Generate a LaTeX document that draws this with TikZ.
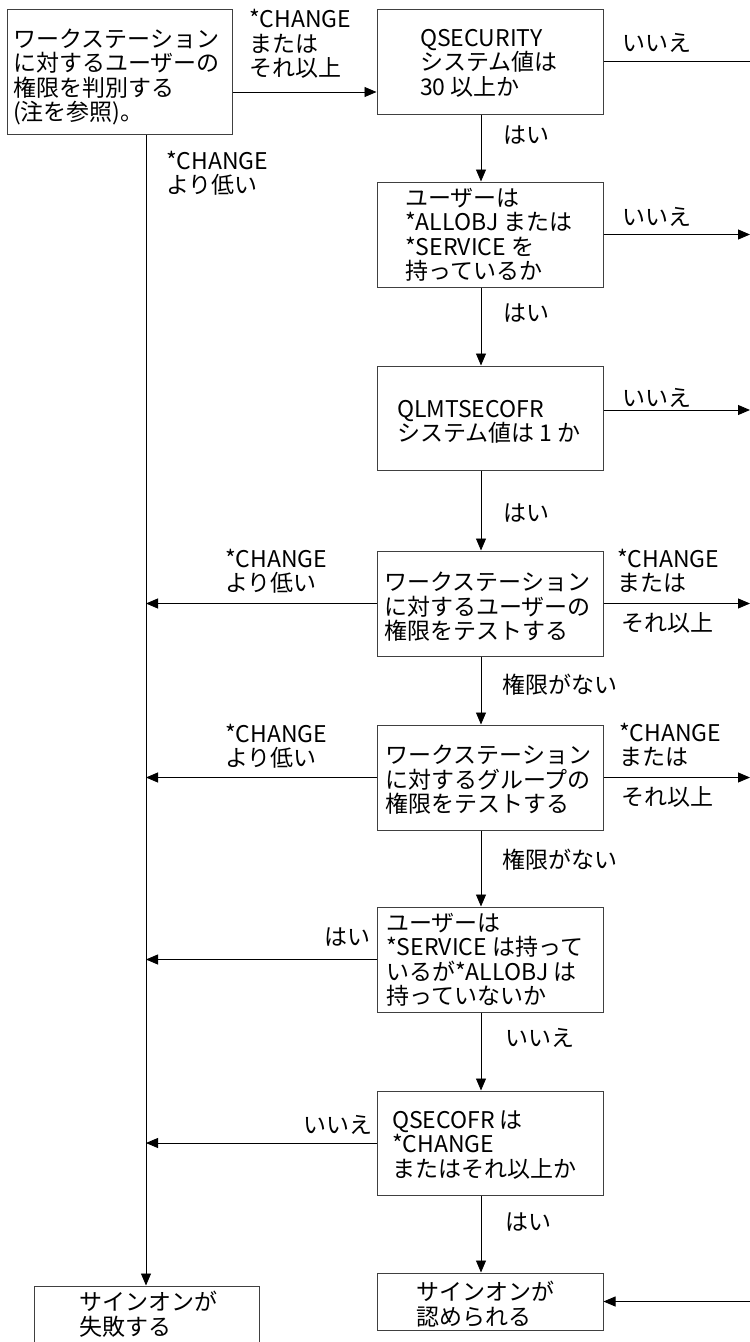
\documentclass[tikz,border=0pt]{standalone}
\usepackage{fontspec}
\setmainfont{Noto Sans CJK JP}
\usetikzlibrary{arrows.meta}
\begin{document}
\begin{tikzpicture}[x=1pt,y=-1pt,
  box/.style={draw=black!75, line width=1pt, minimum width=226pt, inner sep=0pt},
  txt/.style={inner sep=0pt, anchor=west, align=left, font=\fontsize{23}{24.5}\selectfont},
  arr/.style={line width=0.9pt, -{Triangle[length=12pt,width=10pt]}},
  ln/.style={line width=0.9pt}]
\useasboundingbox (0,0) rectangle (750,1342);
\clip (0,0) rectangle (750,1342);
\fill[white] (0,0) rectangle (750,1342);
% boxes
\node[box, minimum width=225pt, minimum height=125pt] (L) at (119.5,71.5) {};
\node[box, minimum height=105pt] (b1) at (490,61.5) {};
\node[box, minimum height=105pt] (b2) at (490,234.5) {};
\node[box, minimum height=104pt] (b3) at (490,418) {};
\node[box, minimum height=105pt] (b4) at (490,603.5) {};
\node[box, minimum height=105pt] (b5) at (490,777.5) {};
\node[box, minimum height=105pt] (b6) at (490,959.5) {};
\node[box, minimum height=104pt] (b7) at (490,1143) {};
\node[box, minimum height=57pt] (ok) at (490,1301.5) {};
\node[box, minimum width=225pt, minimum height=74pt] (fail) at (146.5,1323) {};
% box texts
\node[txt] (tL) at (13,77) {ワークステーション\\に対するユーザーの\\権限を判別する\\(注を参照)。};
\node[txt] (t1) at (420,63) {QSECURITY\\システム値は\\30 以上か};
\node[txt] (t2) at (405,235) {ユーザーは\\*ALLOBJ または\\*SERVICE を\\持っているか};
\node[txt] (t3) at (397,422) {QLMTSECOFR\\システム値は 1 か};
\node[txt] (t4) at (384,607) {ワークステーション\\に対するユーザーの\\権限をテストする};
\node[txt] (t5) at (385,780) {ワークステーション\\に対するグループの\\権限をテストする};
\node[txt] (t6) at (386,960) {ユーザーは\\*SERVICE は持って\\いるが*ALLOBJ は\\持っていないか};
\node[txt] (t7) at (392,1145) {QSECOFR は\\*CHANGE\\またはそれ以上か};
\node[txt] (tok) at (416,1304) {サインオンが\\認められる};
\node[txt] (tfail) at (79,1314) {サインオンが\\失敗する};
% helper coordinates
\coordinate (a0) at (0,92);
\coordinate (vx) at (146,0);
\coordinate (cx) at (481,0);
\coordinate (rx) at (750,0);
\coordinate (r3y) at (0,410);
% connectors
\draw[arr] (L.east |- a0) -- (b1.west |- a0);
\draw[arr] (L.south -| vx) -- (fail.north -| vx);
\draw[arr] (b1.south -| cx) -- (b2.north -| cx);
\draw[arr] (b2.south -| cx) -- (b3.north -| cx);
\draw[arr] (b3.south -| cx) -- (b4.north -| cx);
\draw[arr] (b4.south -| cx) -- (b5.north -| cx);
\draw[arr] (b5.south -| cx) -- (b6.north -| cx);
\draw[arr] (b6.south -| cx) -- (b7.north -| cx);
\draw[arr] (b7.south -| cx) -- (ok.north -| cx);
\draw[arr] (b4.west) -- (b4.west -| vx);
\draw[arr] (b5.west) -- (b5.west -| vx);
\draw[arr] (b6.west) -- (b6.west -| vx);
\draw[arr] (b7.west) -- (b7.west -| vx);
\draw[ln] (b1.east) -- (b1.east -| rx);
\draw[arr] (b2.east) -- (b2.east -| rx);
\draw[arr] (b3.east |- r3y) -- (rx |- r3y);
\draw[arr] (b4.east) -- (b4.east -| rx);
\draw[arr] (b5.east) -- (b5.east -| rx);
\draw[arr] (ok.east -| rx) -- (ok.east);
% labels
\node[txt] (lt) at (249,44) {*CHANGE\\または\\それ以上};
\node[txt] (lb) at (166,173) {*CHANGE\\より低い};
\node[txt] (r1) at (622,43) {いいえ};
\node[txt] (r2) at (622,217) {いいえ};
\node[txt] (r3) at (622,398) {いいえ};
\node[txt] (r4a) at (617,571) {*CHANGE\\または};
\node[txt] (r4b) at (621,623) {それ以上};
\node[txt] (r5a) at (619,745) {*CHANGE\\または};
\node[txt] (r5b) at (621,797) {それ以上};
\node[txt] (l4) at (225,571) {*CHANGE\\より低い};
\node[txt] (l5) at (225,746) {*CHANGE\\より低い};
\node[txt] (l6) at (324,937) {はい};
\node[txt] (l7) at (303,1125) {いいえ};
\node[txt] (d1) at (503,135) {はい};
\node[txt] (d2) at (503,313) {はい};
\node[txt] (d3) at (503,513) {はい};
\node[txt] (d4) at (502,685) {権限がない};
\node[txt] (d5) at (502,860) {権限がない};
\node[txt] (d6) at (505,1038) {いいえ};
\node[txt] (d7) at (505,1222) {はい};
\end{tikzpicture}
\end{document}
